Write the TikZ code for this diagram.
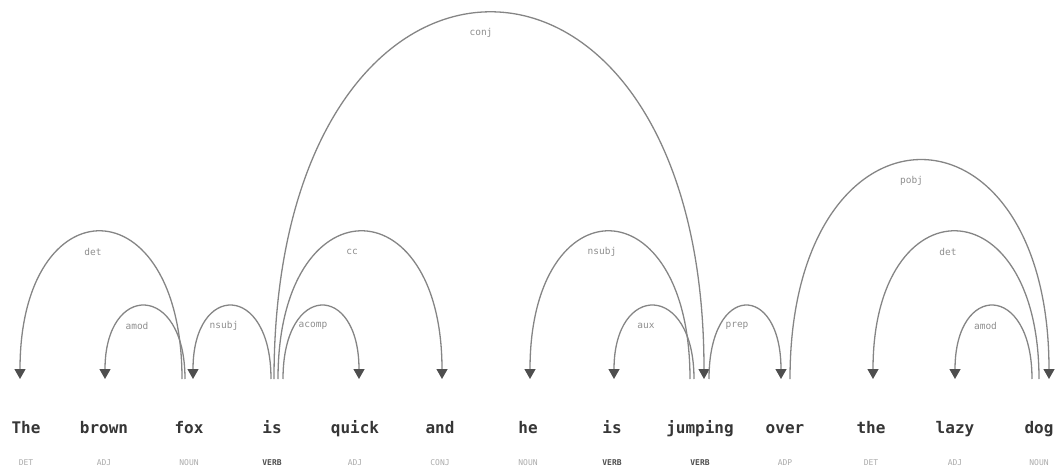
\documentclass[tikz,border=0pt]{standalone}
\usepackage{fontspec}
\newfontfamily\depmono{DejaVu Sans Mono}
\usetikzlibrary{arrows.meta}
\definecolor{arcgray}{HTML}{858585}
\definecolor{headgray}{HTML}{4E4E4E}
\definecolor{wordgray}{HTML}{363636}
\definecolor{taggray}{HTML}{ABABAB}
\definecolor{relgray}{HTML}{8E8E8E}

\begin{document}
\begin{tikzpicture}[x=1pt, y=-1pt,
	word/.style={anchor=base, inner sep=0pt, text=wordgray, font=\depmono\bfseries\fontsize{16}{16}\selectfont},
	tag/.style={anchor=base, inner sep=0pt, text=taggray, font=\depmono\fontsize{8}{8}\selectfont},
	verbtag/.style={tag, text=headgray, font=\depmono\bfseries\fontsize{8}{8}\selectfont},
	deprel/.style={draw=arcgray, line width=1.3pt},
	toright/.style={deprel, -{Triangle[width=11pt, length=10pt, color=headgray]}},
	toleft/.style={deprel, {Triangle[width=11pt, length=10pt, color=headgray]}-},
	rel/.style={inner sep=0pt, text=relgray, font=\depmono\fontsize{9.5}{9.5}\selectfont, pos=0.5, xshift=-8pt, yshift=-20pt}]
			\useasboundingbox (0,0) rectangle (1055,468);
			\node[word] (w0) at (26,433) {The};
			\node[word] (w1) at (104,433) {brown};
			\node[word] (w2) at (189,433) {fox};
			\node[word] (w3) at (272,433) {is};
			\node[word] (w4) at (355,433) {quick};
			\node[word] (w5) at (440,433) {and};
			\node[word] (w6) at (528,433) {he};
			\node[word] (w7) at (612,433) {is};
			\node[word] (w8) at (700,433) {jumping};
			\node[word] (w9) at (785,433) {over};
			\node[word] (w10) at (871,433) {the};
			\node[word] (w11) at (955,433) {lazy};
			\node[word] (w12) at (1039,433) {dog};
			\node[tag] (t0) at (26,465) {DET};
			\node[tag] (t1) at (104,465) {ADJ};
			\node[tag] (t2) at (189,465) {NOUN};
			\node[verbtag] (t3) at (272,465) {VERB};
			\node[tag] (t4) at (355,465) {ADJ};
			\node[tag] (t5) at (440,465) {CONJ};
			\node[tag] (t6) at (528,465) {NOUN};
			\node[verbtag] (t7) at (612,465) {VERB};
			\node[verbtag] (t8) at (700,465) {VERB};
			\node[tag] (t9) at (785,465) {ADP};
			\node[tag] (t10) at (871,465) {DET};
			\node[tag] (t11) at (955,465) {ADJ};
			\node[tag] (t12) at (1039,465) {NOUN};
			\coordinate (p0) at (20,379);
			\coordinate (p1) at (105,379);
			\coordinate (p2) at (193,379);
			\coordinate (p3) at (275,379);
			\coordinate (p4) at (359,379);
			\coordinate (p5) at (442,379);
			\coordinate (p6) at (530,379);
			\coordinate (p7) at (614,379);
			\coordinate (p8) at (704,379);
			\coordinate (p9) at (781,379);
			\coordinate (p10) at (873,379);
			\coordinate (p11) at (955,379);
			\coordinate (p12) at (1049,379);
			\draw[toleft] (p0) .. controls +(0,-196) and +(0,-196) .. ([xshift=-11pt]p2) node[rel] {det};
			\draw[toleft] (p1) .. controls +(0,-97) and +(0,-97) .. ([xshift=-8pt]p2) node[rel] {amod};
			\draw[toleft] (p2) .. controls +(0,-97) and +(0,-97) .. ([xshift=-4pt]p3) node[rel] {nsubj};
			\draw[toright] ([xshift=-1pt]p3) .. controls +(0,-488) and +(0,-488) .. (p8) node[rel] {conj};
			\draw[toright] ([xshift=3pt]p3) .. controls +(0,-196) and +(0,-196) .. (p5) node[rel] {cc};
			\draw[toright] ([xshift=8pt]p3) .. controls +(0,-97) and +(0,-97) .. (p4) node[rel] {acomp};
			\draw[toleft] (p6) .. controls +(0,-196) and +(0,-196) .. ([xshift=-14pt]p8) node[rel] {nsubj};
			\draw[toleft] (p7) .. controls +(0,-97) and +(0,-97) .. ([xshift=-10pt]p8) node[rel] {aux};
			\draw[toright] ([xshift=5pt]p8) .. controls +(0,-97) and +(0,-97) .. (p9) node[rel] {prep};
			\draw[toright] ([xshift=9pt]p9) .. controls +(0,-291) and +(0,-291) .. (p12) node[rel] {pobj};
			\draw[toleft] (p10) .. controls +(0,-196) and +(0,-196) .. ([xshift=-10pt]p12) node[rel] {det};
			\draw[toleft] (p11) .. controls +(0,-97) and +(0,-97) .. ([xshift=-17pt]p12) node[rel] {amod};
	\end{tikzpicture}
\end{document}
